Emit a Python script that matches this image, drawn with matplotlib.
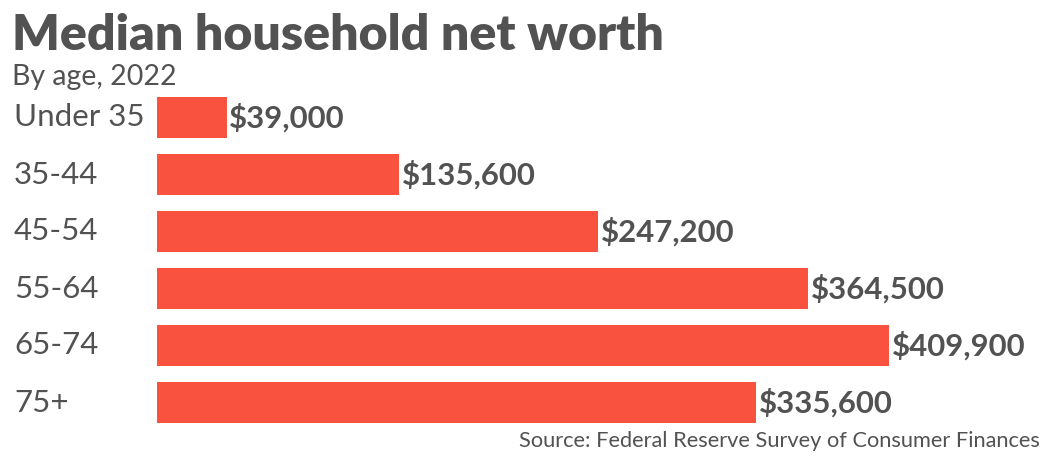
import matplotlib.pyplot as plt

ages = ['Under 35', '35-44', '45-54', '55-64', '65-74', '75+']
net_worth = [39000, 135600, 247200, 364500, 409900, 335600]
value_labels = ['$39,000', '$135,600', '$247,200', '$364,500', '$409,900', '$335,600']

bar_color = '#F9523F'
text_color = '#525252'

plt.rcParams['font.family'] = ['Lato', 'DejaVu Sans']

fig = plt.figure(figsize=(10.5, 4.63), dpi=100)
ax = fig.add_axes([157 / 1050, 32 / 463, 893 / 1050, 342 / 463])

ypos = list(range(len(ages)))
ax.barh(ypos, net_worth, height=0.72, color=bar_color)
ax.set_xlim(0, 500000)
ax.set_ylim(5.5, -0.5)

for y, v, lab in zip(ypos, net_worth, value_labels):
    ax.annotate(lab, (v, y), xytext=(2, 0), textcoords='offset points',
                va='center', ha='left', fontsize=22.4, fontweight='bold',
                color=text_color)

ax.set_yticks(ypos)
ax.set_yticklabels([])
for y, a in zip(ypos, ages):
    ax.text(-143 / 893 * 500000, y, a, va='center', ha='left', fontsize=22.5,
            color=text_color)

ax.set_xticks([])
ax.tick_params(left=False)
for s in ax.spines.values():
    s.set_visible(False)

fig.text(12 / 1050, 1 - 50 / 463, 'Median household net worth', fontsize=36,
         fontweight='heavy', color=text_color, va='baseline', ha='left')
fig.text(12 / 1050, 1 - 85 / 463, 'By age, 2022', fontsize=20.5,
         color=text_color, va='baseline', ha='left')
fig.text(1040 / 1050, 1 - 447 / 463,
         'Source: Federal Reserve Survey of Consumer Finances', fontsize=15.7,
         color=text_color, va='baseline', ha='right')

fig.savefig('out.png', dpi=100)
